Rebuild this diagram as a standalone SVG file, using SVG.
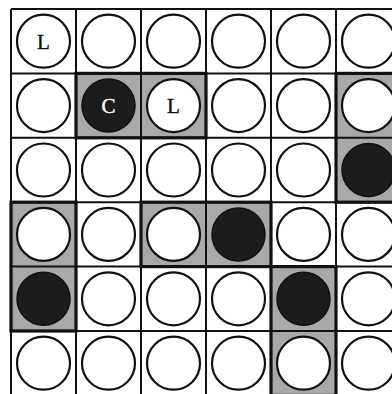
<svg xmlns="http://www.w3.org/2000/svg" width="392" height="394" viewBox="0 0 392 394">
<style>
.bg{fill:#ffffff}
.sh{fill:#a9a9a9}
.grid{stroke:#111111;stroke-width:2;fill:none}
.thick{stroke:#111111;stroke-width:3.2;fill:none}
.w{fill:#ffffff;stroke:#111111;stroke-width:2.2}
.b{fill:#1c1c1c;stroke:#111111;stroke-width:1.5}
.t{font-family:"Liberation Serif","Times New Roman",serif;font-size:21px;text-anchor:middle;stroke-width:0.4}
</style>
<rect class="bg" x="0" y="0" width="392" height="394"/>
<g id="shading">
<rect class="sh" x="76" y="73.4" width="130" height="64.4"/>
<rect class="sh" x="336" y="73.4" width="65" height="128.8"/>
<rect class="sh" x="11" y="202.2" width="65" height="128.8"/>
<rect class="sh" x="141" y="202.2" width="130" height="64.4"/>
<rect class="sh" x="271" y="266.6" width="65" height="128.8"/>
</g>
<g id="grid">
<path class="grid" d="M11 9V396M76 9V396M141 9V396M206 9V396M271 9V396M336 9V396M11 9H401M11 73.4H401M11 137.8H401M11 202.2H401M11 266.6H401M11 331H401"/>
<rect class="thick" x="76" y="73.4" width="130" height="64.4"/>
<rect class="thick" x="336" y="73.4" width="65" height="128.8"/>
<rect class="thick" x="11" y="202.2" width="65" height="128.8"/>
<rect class="thick" x="141" y="202.2" width="130" height="64.4"/>
<rect class="thick" x="271" y="266.6" width="65" height="128.8"/>
</g>
<g id="r1c1"><circle class="w" cx="43.5" cy="41.2" r="26.5"/><text class="t" x="43.5" y="48.6" fill="#111111" stroke="#111111">L</text></g>
<g id="r1c2"><circle class="w" cx="108.5" cy="41.2" r="26.5"/></g>
<g id="r1c3"><circle class="w" cx="173.5" cy="41.2" r="26.5"/></g>
<g id="r1c4"><circle class="w" cx="238.5" cy="41.2" r="26.5"/></g>
<g id="r1c5"><circle class="w" cx="303.5" cy="41.2" r="26.5"/></g>
<g id="r1c6"><circle class="w" cx="368.5" cy="41.2" r="26.5"/></g>
<g id="r2c1"><circle class="w" cx="43.5" cy="105.6" r="26.5"/></g>
<g id="r2c2"><circle class="b" cx="108.5" cy="105.6" r="26.5"/><text class="t" x="108.5" y="113" fill="#ffffff" stroke="#ffffff">C</text></g>
<g id="r2c3"><circle class="w" cx="173.5" cy="105.6" r="26.5"/><text class="t" x="173.5" y="113" fill="#111111" stroke="#111111">L</text></g>
<g id="r2c4"><circle class="w" cx="238.5" cy="105.6" r="26.5"/></g>
<g id="r2c5"><circle class="w" cx="303.5" cy="105.6" r="26.5"/></g>
<g id="r2c6"><circle class="w" cx="368.5" cy="105.6" r="26.5"/></g>
<g id="r3c1"><circle class="w" cx="43.5" cy="170" r="26.5"/></g>
<g id="r3c2"><circle class="w" cx="108.5" cy="170" r="26.5"/></g>
<g id="r3c3"><circle class="w" cx="173.5" cy="170" r="26.5"/></g>
<g id="r3c4"><circle class="w" cx="238.5" cy="170" r="26.5"/></g>
<g id="r3c5"><circle class="w" cx="303.5" cy="170" r="26.5"/></g>
<g id="r3c6"><circle class="b" cx="368.5" cy="170" r="26.5"/></g>
<g id="r4c1"><circle class="w" cx="43.5" cy="234.4" r="26.5"/></g>
<g id="r4c2"><circle class="w" cx="108.5" cy="234.4" r="26.5"/></g>
<g id="r4c3"><circle class="w" cx="173.5" cy="234.4" r="26.5"/></g>
<g id="r4c4"><circle class="b" cx="238.5" cy="234.4" r="26.5"/></g>
<g id="r4c5"><circle class="w" cx="303.5" cy="234.4" r="26.5"/></g>
<g id="r4c6"><circle class="w" cx="368.5" cy="234.4" r="26.5"/></g>
<g id="r5c1"><circle class="b" cx="43.5" cy="298.8" r="26.5"/></g>
<g id="r5c2"><circle class="w" cx="108.5" cy="298.8" r="26.5"/></g>
<g id="r5c3"><circle class="w" cx="173.5" cy="298.8" r="26.5"/></g>
<g id="r5c4"><circle class="w" cx="238.5" cy="298.8" r="26.5"/></g>
<g id="r5c5"><circle class="b" cx="303.5" cy="298.8" r="26.5"/></g>
<g id="r5c6"><circle class="w" cx="368.5" cy="298.8" r="26.5"/></g>
<g id="r6c1"><circle class="w" cx="43.5" cy="363.2" r="26.5"/></g>
<g id="r6c2"><circle class="w" cx="108.5" cy="363.2" r="26.5"/></g>
<g id="r6c3"><circle class="w" cx="173.5" cy="363.2" r="26.5"/></g>
<g id="r6c4"><circle class="w" cx="238.5" cy="363.2" r="26.5"/></g>
<g id="r6c5"><circle class="w" cx="303.5" cy="363.2" r="26.5"/></g>
<g id="r6c6"><circle class="w" cx="368.5" cy="363.2" r="26.5"/></g>
</svg>
